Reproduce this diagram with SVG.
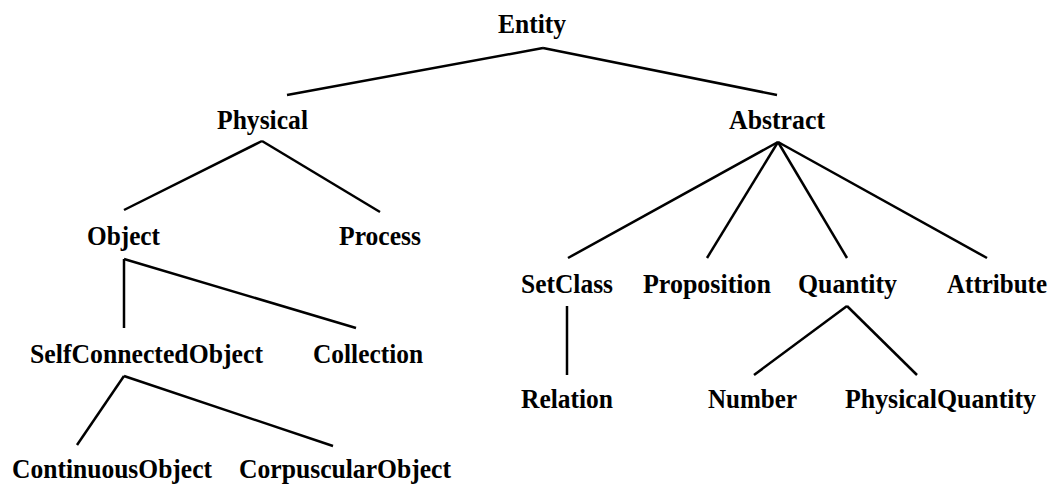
<svg xmlns="http://www.w3.org/2000/svg" width="1053" height="484" viewBox="0 0 1053 484">
  <style>
    .label { font-family: "Liberation Serif", "Times New Roman", serif; font-weight: bold; font-size: 26.5px; fill: #000; text-anchor: middle; }
    .edge { stroke: #000; stroke-width: 2.5; fill: none; stroke-linecap: butt; }
  </style>
  <rect width="1053" height="484" fill="#fff"/>

  <!-- connectors -->
  <g id="connectors" class="edges">
    <line class="edge" x1="543" y1="48" x2="287" y2="95"/>
    <line class="edge" x1="543" y1="48" x2="777" y2="95"/>
    <line class="edge" x1="262" y1="141" x2="124" y2="210"/>
    <line class="edge" x1="262" y1="141" x2="380" y2="212"/>
    <line class="edge" x1="124" y1="259" x2="124" y2="328"/>
    <line class="edge" x1="124" y1="259" x2="356" y2="328"/>
    <line class="edge" x1="124" y1="376" x2="77" y2="445"/>
    <line class="edge" x1="124" y1="376" x2="333" y2="446"/>
    <line class="edge" x1="778" y1="142" x2="568" y2="258"/>
    <line class="edge" x1="778" y1="142" x2="707" y2="258"/>
    <line class="edge" x1="778" y1="142" x2="847" y2="258"/>
    <line class="edge" x1="778" y1="142" x2="987" y2="258"/>
    <line class="edge" x1="567" y1="306" x2="567" y2="375"/>
    <line class="edge" x1="847" y1="306" x2="754" y2="375"/>
    <line class="edge" x1="847" y1="306" x2="917" y2="375"/>
  </g>

  <!-- nodes -->
  <g id="entity"><text class="label" x="532" y="33" textLength="68" lengthAdjust="spacingAndGlyphs">Entity</text></g>
  <g id="physical"><text class="label" x="262.5" y="129" textLength="91" lengthAdjust="spacingAndGlyphs">Physical</text></g>
  <g id="abstract"><text class="label" x="777" y="129" textLength="96" lengthAdjust="spacingAndGlyphs">Abstract</text></g>
  <g id="object"><text class="label" x="123.5" y="245" textLength="73" lengthAdjust="spacingAndGlyphs">Object</text></g>
  <g id="process"><text class="label" x="380" y="245" textLength="82" lengthAdjust="spacingAndGlyphs">Process</text></g>
  <g id="selfconnectedobject"><text class="label" x="146.5" y="363" textLength="233" lengthAdjust="spacingAndGlyphs">SelfConnectedObject</text></g>
  <g id="collection"><text class="label" x="368" y="363" textLength="110" lengthAdjust="spacingAndGlyphs">Collection</text></g>
  <g id="continuousobject"><text class="label" x="112" y="478" textLength="200" lengthAdjust="spacingAndGlyphs">ContinuousObject</text></g>
  <g id="corpuscularobject"><text class="label" x="345" y="478" textLength="212" lengthAdjust="spacingAndGlyphs">CorpuscularObject</text></g>
  <g id="setclass"><text class="label" x="567" y="293" textLength="92" lengthAdjust="spacingAndGlyphs">SetClass</text></g>
  <g id="proposition"><text class="label" x="707" y="293" textLength="128" lengthAdjust="spacingAndGlyphs">Proposition</text></g>
  <g id="quantity"><text class="label" x="847.5" y="293" textLength="99" lengthAdjust="spacingAndGlyphs">Quantity</text></g>
  <g id="attribute"><text class="label" x="997" y="293" textLength="100" lengthAdjust="spacingAndGlyphs">Attribute</text></g>
  <g id="relation"><text class="label" x="567" y="408" textLength="92" lengthAdjust="spacingAndGlyphs">Relation</text></g>
  <g id="number"><text class="label" x="752.5" y="408" textLength="89" lengthAdjust="spacingAndGlyphs">Number</text></g>
  <g id="physicalquantity"><text class="label" x="940.5" y="408" textLength="191" lengthAdjust="spacingAndGlyphs">PhysicalQuantity</text></g>
</svg>
